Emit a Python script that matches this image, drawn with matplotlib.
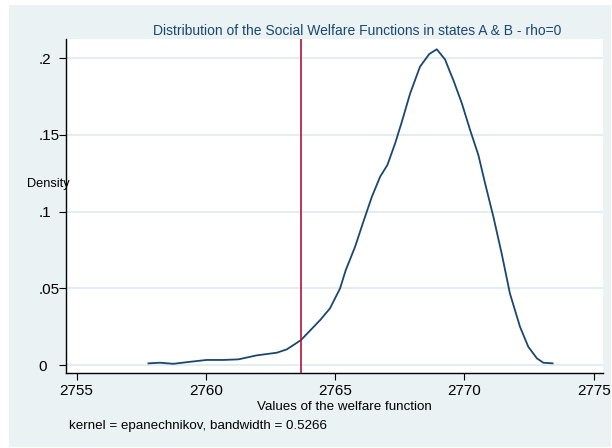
import matplotlib.pyplot as plt
from matplotlib.patches import Rectangle

# kernel density estimate
welfare = [2757.78, 2758.23, 2758.74, 2759.39, 2760.03, 2760.68, 2761.26, 2761.97,
           2762.74, 2763.13, 2763.45, 2763.68, 2764.42, 2764.80, 2765.19, 2765.41,
           2765.77, 2766.09, 2766.42, 2766.74, 2767.02, 2767.32, 2767.58, 2767.90,
           2768.28, 2768.64, 2768.93, 2769.25, 2769.44, 2769.57, 2769.90, 2770.22,
           2770.54, 2770.80, 2771.12, 2771.44, 2771.76, 2772.15, 2772.47, 2772.80,
           2773.05, 2773.41]
density = [0.0011, 0.0015, 0.0008, 0.0021, 0.0033, 0.0033, 0.0037, 0.0063,
           0.0080, 0.0102, 0.0137, 0.0163, 0.0293, 0.0369, 0.0499, 0.0618,
           0.0770, 0.0933, 0.1096, 0.1227, 0.1303, 0.1444, 0.1585, 0.1769,
           0.1943, 0.2026, 0.2057, 0.1991, 0.1910, 0.1857, 0.1705, 0.1531,
           0.1368, 0.1183, 0.0966, 0.0727, 0.0466, 0.0249, 0.0119, 0.0044,
           0.0015, 0.0011]
xline_at = 2763.68

x_ticks = [2755, 2760, 2765, 2770, 2775]
y_ticks = [0, 0.05, 0.1, 0.15, 0.2]
y_tick_labels = ["0", ".05", ".1", ".15", ".2"]

title = "Distribution of the Social Welfare Functions in states A & B - rho=0"
note = "kernel = epanechnikov, bandwidth = 0.5266"

BG = "#EAF2F3"
NAVY = "#1A476F"

plt.rcParams["font.family"] = ["Liberation Sans", "DejaVu Sans"]

W, H = 612, 448
fig = plt.figure(figsize=(W / 100, H / 100), dpi=100)
fig.patch.set_facecolor("white")
fig.patches.append(Rectangle((9 / W, 1 / H), 602 / W, 442 / H,
                             transform=fig.transFigure, facecolor=BG,
                             edgecolor="none", zorder=-10))

left, right, top, bottom = 66, 603, 39, 373
ax = fig.add_axes([left / W, (H - bottom) / H, (right - left) / W, (bottom - top) / H])
ax.set_zorder(5)
ax.set_facecolor("white")

ax.plot(welfare, density, color=NAVY, lw=1.3, zorder=3)
ax.axvline(xline_at, color="#B8123A", lw=1.2, zorder=4)

ax.set_xlim(2754.59, 2775.36)
ax.set_ylim(-0.0052, 0.2124)
ax.set_xticks(x_ticks)
ax.set_yticks(y_ticks)
ax.set_yticklabels(y_tick_labels)
ax.grid(axis="y", color="#E4EDEF", lw=1.5, zorder=1)
ax.set_axisbelow(True)

for side in ["top", "right"]:
    ax.spines[side].set_visible(False)
for side in ["left", "bottom"]:
    ax.spines[side].set_linewidth(1.0)

ax.tick_params(axis="x", length=5, width=0.8, pad=3, labelsize=11)
ax.tick_params(axis="y", length=5, width=0.8, pad=15, labelsize=11)
for lab in ax.get_yticklabels():
    lab.set_ha("left")

fig.text(357 / W, 1 - 31 / H, title, ha="center", va="center", fontsize=10, color=NAVY)
fig.text(27 / W, 1 - 184 / H, "Density", ha="left", va="center", fontsize=9.2, zorder=10)
fig.text(344 / W, 1 - 407 / H, "Values of the welfare function", ha="center", va="center", fontsize=9.6)
fig.text(69 / W, 1 - 426 / H, note, ha="left", va="center", fontsize=9.6)

fig.savefig("out.png", dpi=100, facecolor=fig.get_facecolor())
